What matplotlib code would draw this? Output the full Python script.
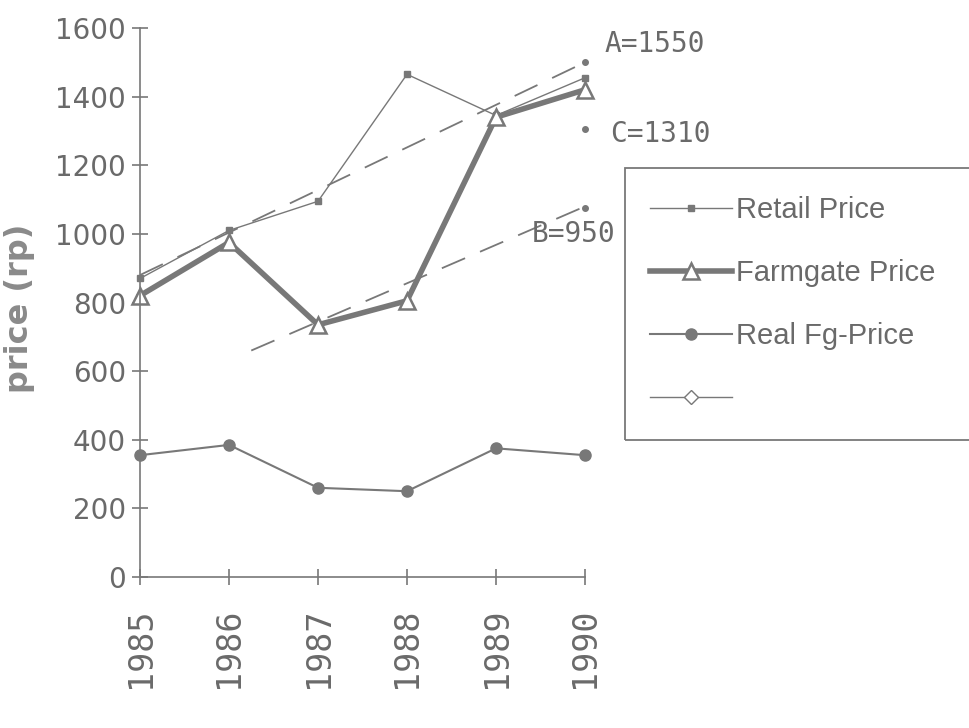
import matplotlib
matplotlib.use("Agg")
import matplotlib.pyplot as plt
from matplotlib.patches import Rectangle

# price series, 1985-1990
years = [1985, 1986, 1987, 1988, 1989, 1990]
retail = [870, 1010, 1095, 1465, 1345, 1455]
farmgate = [820, 975, 735, 805, 1340, 1420]
real_fg = [355, 385, 260, 250, 375, 355]

# trend lines and projected points for 1990
trend_a_x = [1985, 1990]
trend_a_y = [880, 1500]
trend_b_x = [1986.25, 1990]
trend_b_y = [660, 1080]
proj_x = [1990, 1990, 1990]
proj_y = [1500, 1305, 1075]
proj_labels = ["A=1550", "C=1310", "B=950"]

grey = "#787878"
text_grey = "#6a6a6a"

fig = plt.figure(figsize=(9.69, 7.28), dpi=100)
ax = fig.add_axes([140/969, 151/728, 445/969, 549/728])

ax.plot(years, retail, color=grey, lw=1.0, marker="s", ms=4,
        label="Retail Price", clip_on=False)
ax.plot(years, farmgate, color=grey, lw=4.0, marker="^", ms=11, mfc="white",
        mec=grey, mew=1.8, label="Farmgate Price", clip_on=False)
ax.plot(years, real_fg, color=grey, lw=1.5, marker="o", ms=8,
        label="Real Fg-Price", clip_on=False)
ax.plot([], [], color=grey, lw=1.0, marker="D", ms=7, mfc="white", mec=grey, label=" ")

# dashed trends
ax.plot(trend_a_x, trend_a_y, color=grey, lw=1.3, dashes=(14, 9))
ax.plot(trend_b_x, trend_b_y, color=grey, lw=1.3, dashes=(14, 9))
ax.plot(proj_x, proj_y, ls="none", marker="o", ms=4, color=grey, clip_on=False)

ax.text(1990.22, 1552, proj_labels[0], fontsize=20, color=text_grey,
        family="DejaVu Sans Mono", va="center", ha="left")
ax.text(1990.28, 1290, proj_labels[1], fontsize=20, color=text_grey,
        family="DejaVu Sans Mono", va="center", ha="left")
ax.text(1989.4, 1000, proj_labels[2], fontsize=20, color=text_grey,
        family="DejaVu Sans Mono", va="center", ha="left")

ax.set_xlim(1985, 1990)
ax.set_ylim(0, 1600)
ax.set_xticks(years)
ax.set_xticklabels([str(y) for y in years], rotation=90, fontsize=24,
                   color=text_grey, family="DejaVu Sans Mono")
ax.set_yticks(range(0, 1601, 200))
ax.set_yticklabels([str(v) for v in range(0, 1601, 200)], fontsize=20,
                   color=text_grey)
ax.tick_params(axis="both", direction="inout", length=12, width=1.2, color=grey)
ax.tick_params(axis="x", pad=16)
ax.tick_params(axis="y", pad=4)
for side in ["top", "right"]:
    ax.spines[side].set_visible(False)
for side in ["left", "bottom"]:
    ax.spines[side].set_color(grey)
    ax.spines[side].set_linewidth(1.2)

ax.set_ylabel("price (rp)", fontsize=23, fontweight="bold", color="#8a8a8a")
ax.yaxis.set_label_coords(-0.235, 0.49)

# legend box, runs off the right edge
fig.patches.append(Rectangle((625/969, 288/728), 0.5, 272/728,
                             transform=fig.transFigure, fill=False,
                             ec=grey, lw=1.3))
fig.legend(loc="upper left", bbox_to_anchor=(650/969, 1 - 196/728),
           frameon=False, prop={"family": "Liberation Sans", "size": 21},
           labelcolor=text_grey, handlelength=2.8, handletextpad=0.15,
           labelspacing=1.2, borderaxespad=0, borderpad=0)

fig.savefig("out.png", dpi=100)
